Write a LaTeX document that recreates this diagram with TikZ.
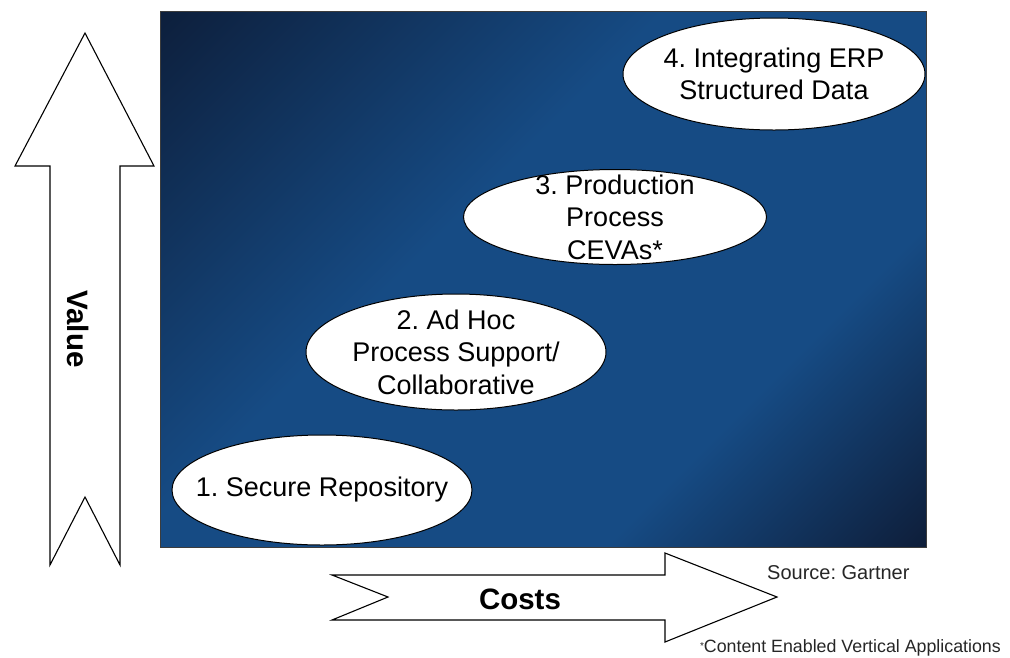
\documentclass[tikz,border=0pt]{standalone}
\usepackage{fontspec}
\setmainfont{Liberation Sans}
\usetikzlibrary{shapes.geometric}
\definecolor{dkA}{RGB}{13,31,60}
\definecolor{dkB}{RGB}{14,30,58}
\definecolor{ltB}{RGB}{22,75,132}
\definecolor{frame}{RGB}{60,60,60}
\pgfdeclareverticalshading{bgshade}{100bp}{color(0bp)=(dkB); color(14.6bp)=(dkB); color(32bp)=(ltB); color(58bp)=(ltB); color(85.4bp)=(dkA); color(100bp)=(dkA)}
\tikzset{
  stage/.style={ellipse, draw=black, line width=1pt, fill=white, inner sep=-30pt,
     minimum width=300pt, align=center, font=\fontsize{27}{32.5}\selectfont},
  bigarrow/.style={draw=black, line width=1.1pt, fill=white, line join=miter},
  axislabel/.style={font=\fontsize{29.5}{30}\selectfont\bfseries},
  notetext/.style={font=\fontsize{20}{22}\selectfont, text=black!85, inner sep=0pt}
}
\frenchspacing
\begin{document}
\begin{tikzpicture}[x=1pt,y=-1pt]
\useasboundingbox (0,0) rectangle (1010,657);
% background panel
\shade[shading=bgshade, shading angle=45] (160,11) rectangle (926,547);
\draw[frame, line width=0.8pt] (160,11) rectangle (926,547);
% stages
\node[stage, minimum height=110pt] (s1) at (322,490) {1. Secure Repository};
\node[stage, minimum height=116pt] (s2) at (456,352) {2. Ad Hoc\\Process Support/\\Collaborative};
\node[stage, minimum height=95pt, minimum width=303pt] (s3) at (615,217) {3. Production\\Process\\CEVAs*};
\node[stage, minimum height=112pt, minimum width=302pt] (s4) at (774,74) {4. Integrating ERP\\Structured Data};
% value arrow
\draw[bigarrow] (85,33) -- (154,166) -- (120,166) -- (120,565) -- (85,497) -- (50,565) -- (50,166) -- (15,166) -- cycle;
\node[axislabel, rotate=-90] (value) at (78,329) {Value};
% costs arrow
\draw[bigarrow] (332,575) -- (665,575) -- (665,553) -- (777,597) -- (665,642) -- (665,620) -- (332,620) -- (388,597) -- cycle;
\node[axislabel] (costs) at (520,599) {Costs};
% notes
\node[notetext, anchor=base west] (source) at (767,579) {Source: Gartner};
\node[notetext, font=\fontsize{17.8}{20}\selectfont, anchor=base east] (foot) at (1001,652) {{\fontsize{10}{10}\selectfont\raisebox{3pt}{*}}Content Enabled Vertical Applications};
\end{tikzpicture}
\end{document}
